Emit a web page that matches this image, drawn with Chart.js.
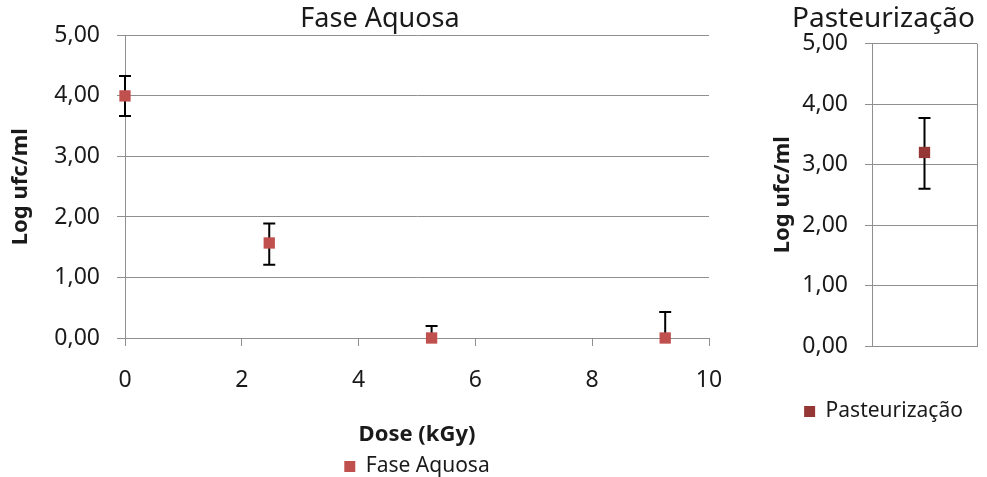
<!DOCTYPE html>
<html>
<head>
<meta charset="utf-8">
<script src="https://cdn.jsdelivr.net/npm/chart.js@4/dist/chart.umd.min.js"></script>
<style>
    html, body { margin: 0; padding: 0; background: #fff; overflow: hidden; }
    #wrapFase { position: absolute; left: 0; top: 0; width: 760px; height: 477px; }
    #wrapPast { position: absolute; left: 770px; top: 0; width: 227px; height: 477px; }
</style>
</head>
<body>
<div id="wrapFase"><canvas id="chartFase" width="760" height="477"></canvas></div>
<div id="wrapPast"><canvas id="chartPast" width="227" height="477"></canvas></div>
<script>
// Fase Aquosa
const doseKGy = [0, 2.47, 5.25, 9.25];
const faseLog = [4.00, 1.57, 0.00, 0.00];
const faseErrAlto = [4.33, 1.89, 0.20, 0.43];
const faseErrBaixo = [3.67, 1.21, 0.00, 0.00];

// Pasteurização
const pastCategorias = ['Pasteurização'];
const pastLog = [3.20];
const pastErrAlto = [3.77];
const pastErrBaixo = [2.60];

const yTickLabels = ['0,00', '1,00', '2,00', '3,00', '4,00', '5,00'];

const corGrade = '#8f8f8f';
const corTexto = '#1a1a1a';

Chart.defaults.font.family = '"Noto Sans", sans-serif';
Chart.defaults.color = corTexto;

// barras de erro desenhadas com as escalas do Chart.js
const errorBars = {
    id: 'errorBars',
    beforeDatasetsDraw(chart) {
        const ctx = chart.ctx;
        const yScale = chart.scales.y;
        chart.data.datasets.forEach((ds, i) => {
            const meta = chart.getDatasetMeta(i);
            meta.data.forEach((pt, j) => {
                const valor = typeof ds.data[j] === 'object' ? ds.data[j].y : ds.data[j];
                const yAlto = yScale.getPixelForValue(ds.errAlto[j]);
                const yBaixo = yScale.getPixelForValue(ds.errBaixo[j]);
                const capa = 6;
                ctx.save();
                ctx.strokeStyle = '#000';
                ctx.lineWidth = 2;
                ctx.beginPath();
                ctx.moveTo(pt.x, yAlto);
                ctx.lineTo(pt.x, yBaixo);
                ctx.moveTo(pt.x - capa, yAlto);
                ctx.lineTo(pt.x + capa, yAlto);
                if (ds.errBaixo[j] < valor) {
                    ctx.moveTo(pt.x - capa, yBaixo);
                    ctx.lineTo(pt.x + capa, yBaixo);
                }
                ctx.stroke();
                ctx.restore();
            });
        });
    }
};

function eixoY(larguraFixa, tick) {
    return {
        min: 0,
        max: 5,
        ticks: {
            stepSize: 1,
            padding: 17,
            font: { size: 23 },
            callback: v => yTickLabels[v]
        },
        grid: { color: corGrade, tickLength: tick, lineWidth: 1 },
        border: { color: corGrade },
        title: {
            display: true,
            text: 'Log ufc/ml',
            font: { size: 22, weight: 'bold' },
            padding: { top: 0, bottom: 0 }
        },
        afterFit: s => { s.width = larguraFixa; }
    };
}

// eixo vazio à direita, só para reservar espaço
function eixoVazio(largura) {
    return {
        position: 'right',
        display: true,
        ticks: { display: false },
        grid: { display: false },
        border: { display: false },
        afterFit: s => { s.width = largura; }
    };
}

const yFase = eixoY(125, 8);
yFase.title.padding = { top: 8, bottom: 0 };

new Chart(document.getElementById('chartFase'), {
    type: 'scatter',
    data: {
        datasets: [{
            label: 'Fase Aquosa',
            data: doseKGy.map((d, i) => ({ x: d, y: faseLog[i] })),
            errAlto: faseErrAlto,
            errBaixo: faseErrBaixo,
            backgroundColor: '#C0504D',
            borderColor: '#C0504D',
            pointStyle: 'rect',
            pointRadius: 8,
            pointHoverRadius: 8,
            borderWidth: 0,
            clip: false
        }]
    },
    options: {
        responsive: false,
        animation: false,
        layout: { padding: { left: 0, right: 0, top: 0, bottom: -10 } },
        plugins: {
            title: {
                display: true,
                text: 'Fase Aquosa',
                font: { size: 27, weight: 'normal' },
                color: corTexto,
                padding: { top: 3, bottom: 0 }
            },
            legend: {
                position: 'bottom',
                fullSize: false,
                labels: {
                    boxWidth: 11,
                    boxHeight: 11,
                    padding: 0,
                    font: { size: 21 },
                    color: corTexto
                }
            },
            tooltip: { enabled: false }
        },
        scales: {
            x: {
                type: 'linear',
                min: 0,
                max: 10,
                ticks: { stepSize: 2, padding: 21, font: { size: 23 } },
                grid: { drawOnChartArea: false, tickLength: 8, color: corGrade },
                border: { color: corGrade },
                title: {
                    display: true,
                    text: 'Dose (kGy)',
                    font: { size: 22, weight: 'bold' },
                    padding: { top: 0, bottom: 8 }
                },
                afterFit: s => { s.height = 118; }
            },
            y: yFase,
            y2: eixoVazio(51)
        }
    },
    plugins: [errorBars]
});

const yPast = eixoY(102, 7);

new Chart(document.getElementById('chartPast'), {
    type: 'line',
    data: {
        labels: pastCategorias,
        datasets: [{
            label: 'Pasteurização',
            data: pastLog,
            errAlto: pastErrAlto,
            errBaixo: pastErrBaixo,
            showLine: false,
            backgroundColor: '#953735',
            borderColor: '#953735',
            pointStyle: 'rect',
            pointRadius: 8,
            pointHoverRadius: 8,
            borderWidth: 0,
            clip: false
        }]
    },
    options: {
        responsive: false,
        animation: false,
        layout: { padding: { left: 0, right: 0, top: 0, bottom: 45 } },
        plugins: {
            title: {
                display: true,
                text: 'Pasteurização',
                font: { size: 28, weight: 'normal' },
                color: corTexto,
                padding: { top: 2, bottom: 8 }
            },
            legend: {
                position: 'bottom',
                labels: {
                    boxWidth: 11,
                    boxHeight: 11,
                    padding: 0,
                    font: { size: 21 },
                    color: corTexto
                }
            },
            tooltip: { enabled: false }
        },
        scales: {
            x: {
                type: 'category',
                offset: true,
                ticks: { display: false },
                grid: { offset: true, drawTicks: false, color: corGrade },
                border: { color: corGrade },
                afterFit: s => { s.height = 55; }
            },
            y: yPast,
            y2: eixoVazio(20)
        }
    },
    plugins: [errorBars]
});
</script>
</body>
</html>
